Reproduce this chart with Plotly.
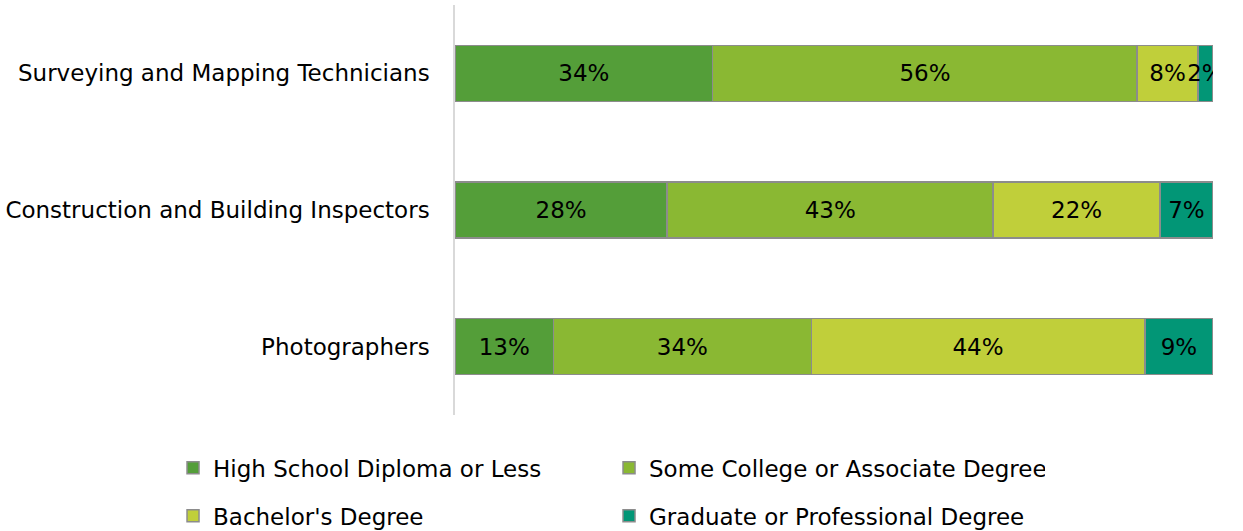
import plotly.graph_objects as go

categories = ["Surveying and Mapping Technicians", "Construction and Building Inspectors", "Photographers"]
series_names = ["High School Diploma or Less", "Some College or Associate Degree",
                "Bachelor's Degree", "Graduate or Professional Degree"]
high_school = [34, 28, 13]
some_college = [56, 43, 34]
bachelors = [8, 22, 44]
graduate = [2, 7, 9]
colors = ["#549E39", "#8AB833", "#C0CF3A", "#029676"]

series = [high_school, some_college, bachelors, graduate]
legend_ids = ["legend", "legend", "legend2", "legend2"]

FONT = "DejaVu Sans"

fig = go.Figure()
for name, vals, col, lg in zip(series_names, series, colors, legend_ids):
    fig.add_trace(go.Bar(
        y=categories, x=vals, name=name, orientation="h",
        marker=dict(color=col, line=dict(color="#8C8C8C", width=1.5)),
        text=[f"{v}%" for v in vals], textposition="inside", textangle=0,
        insidetextanchor="middle", constraintext="none",
        textfont=dict(color="black", size=23, family=FONT),
        legend=lg,
    ))

leg_common = dict(orientation="h", xanchor="left", yanchor="middle", entrywidth=391,
                  traceorder="normal",
                  font=dict(size=23, family=FONT, color="black"), bgcolor="rgba(0,0,0,0)",
                  itemclick=False)
fig.update_layout(
    barmode="stack",
    width=1243, height=531,
    margin=dict(l=455, r=30, t=5, b=116, autoexpand=False),
    plot_bgcolor="white", paper_bgcolor="white",
    bargap=0.59,
    font=dict(family=FONT, size=23, color="black"),
    xaxis=dict(range=[0, 100], showgrid=False, showticklabels=False, zeroline=False),
    yaxis=dict(autorange="reversed", showline=True, linecolor="#D9D9D9", linewidth=1.5,
               ticks="", ticklabelstandoff=19, showgrid=False),
    legend=dict(x=-0.372, y=-0.129, **leg_common),
    legend2=dict(x=-0.372, y=-0.246, **leg_common),
    showlegend=True,
)
fig.write_html("out.html")
